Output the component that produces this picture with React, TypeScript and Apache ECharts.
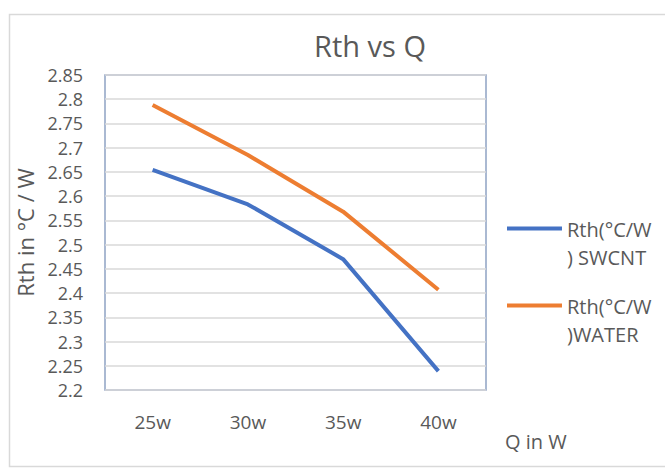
import React, { useEffect, useRef } from "react";
import * as echarts from "echarts";

const categories = ["25w", "30w", "35w", "40w"];
const swcnt = [2.654, 2.583, 2.47, 2.239];
const water = [2.788, 2.685, 2.568, 2.407];
const seriesNames = ["Rth(°C/W\n) SWCNT", "Rth(°C/W\n)WATER"];
const yMin = 2.2;
const yMax = 2.85;
const yStep = 0.05;

const FONT = "'Open Sans', sans-serif";
const GREY = "#595959";

export default function App() {
  const ref = useRef<HTMLDivElement>(null);
  useEffect(() => {
    if (!ref.current) return;
    const chart = echarts.init(ref.current, undefined, { renderer: "svg" });
    chart.setOption({
      animation: false,
      backgroundColor: "#ffffff",
      textStyle: { fontFamily: FONT },
      title: {
        text: "Rth vs Q",
        left: 365,
        textAlign: "center",
        top: 26,
        textStyle: { fontFamily: FONT, fontSize: 29, fontWeight: "normal", color: GREY },
      },
      graphic: [
        {
          type: "rect",
          shape: { x: 9.5, y: 14.5, width: 680, height: 452 },
          style: { fill: "none", stroke: "#d9d9d9", lineWidth: 1.5 },
          silent: true,
          z: -1,
        },
      ],
      grid: {
        left: 105,
        top: 75,
        right: 179,
        bottom: 81,
        show: true,
        borderColor: "#8fa2c4",
        borderWidth: 1.5,
        backgroundColor: "transparent",
      },
      legend: {
        orient: "vertical",
        left: 502,
        top: 210,
        itemWidth: 55,
        itemHeight: 33,
        itemGap: 21,
        icon: "path://M0,0 L55,0 L55,4 L0,4 Z M0,33 L0.01,33 L0.01,33.01 Z",
        itemStyle: { borderWidth: 0 },
        data: seriesNames,
        textStyle: {
          fontFamily: FONT,
          fontSize: 20,
          color: GREY,
          lineHeight: 28,
        },
      },
      xAxis: {
        type: "category",
        data: categories,
        boundaryGap: true,
        axisLine: { show: false },
        axisTick: { show: false },
        axisLabel: { fontFamily: FONT, fontSize: 19, color: GREY, margin: 22 },
        name: "Q in W",
        nameLocation: "end",
        nameGap: 19,
        nameTextStyle: {
          fontFamily: FONT,
          fontSize: 20,
          color: GREY,
          verticalAlign: "top",
          padding: [41, 0, 0, 0],
        },
      },
      yAxis: {
        type: "value",
        min: yMin,
        max: yMax,
        interval: yStep,
        axisLine: { show: false },
        axisTick: { show: false },
        splitLine: { lineStyle: { color: "#d9d9d9", width: 1.5 } },
        axisLabel: {
          fontFamily: FONT,
          fontSize: 18,
          color: GREY,
          margin: 22,
          formatter: (v: number) => String(+v.toFixed(2)),
        },
        name: "Rth in °C / W",
        nameLocation: "middle",
        nameGap: 66,
        nameTextStyle: { fontFamily: FONT, fontSize: 22, color: GREY },
      },
      series: [
        {
          name: seriesNames[0],
          type: "line",
          data: swcnt,
          symbol: "none",
          lineStyle: { color: "#4472c4", width: 4 },
          itemStyle: { color: "#4472c4" },
        },
        {
          name: seriesNames[1],
          type: "line",
          data: water,
          symbol: "none",
          lineStyle: { color: "#ed7d31", width: 4 },
          itemStyle: { color: "#ed7d31" },
        },
      ],
    });
    return () => chart.dispose();
  }, []);
  return <div ref={ref} style={{ width: 665, height: 471, position: "absolute", left: 0, top: 0 }} />;
}
